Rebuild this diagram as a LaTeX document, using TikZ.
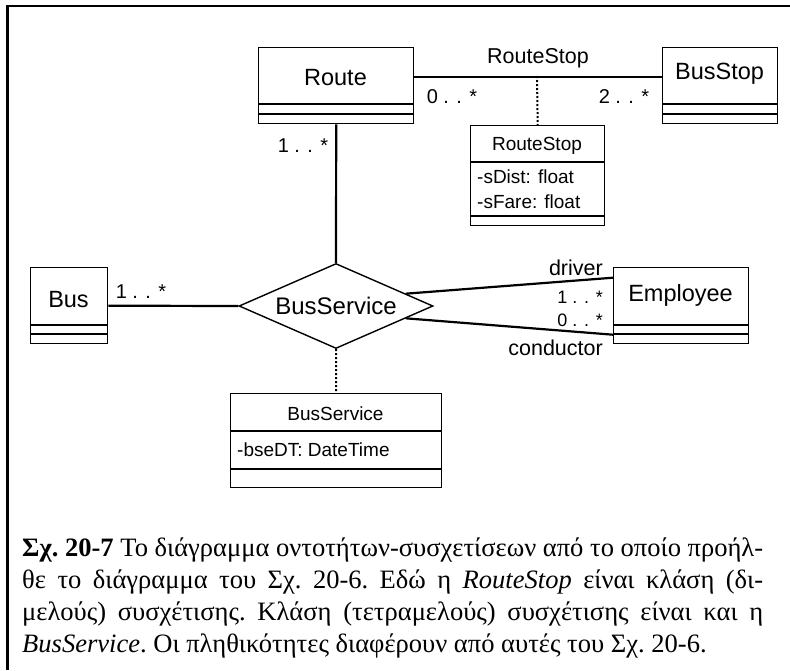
\documentclass[tikz,border=0pt]{standalone}
\usepackage{fontspec}
\setmainfont{Liberation Serif}
\newfontfamily\diagfont{Liberation Sans}
\usetikzlibrary{shapes.geometric}

\newcommand{\fsz}[1]{\fontsize{#1}{#1}\selectfont}

% caption lines, set as printed
\newcommand{\capA}{\textbf{Σχ. 20-7} Το διάγραμμα οντοτήτων-συσχετίσεων από το οποίο προήλ-}
\newcommand{\capB}{θε το διάγραμμα του Σχ. 20-6. Εδώ η \textit{RouteStop} είναι κλάση (δι-}
\newcommand{\capC}{μελούς) συσχέτισης. Κλάση (τετραμελούς) συσχέτισης είναι και η}
\newcommand{\capD}{\textit{BusService}. Οι πληθικότητες διαφέρουν από αυτές του Σχ. 20-6.}

% the first caption line runs the full measure at its natural width
\newlength{\capwidth}
\setlength{\capwidth}{741pt}
\newlength{\caplinenat}
\settowidth{\caplinenat}{\frenchspacing\fsz{20}\capA}

\tikzset{
  classbox/.style={draw, line width=1.4pt, inner sep=0pt, anchor=north west},
  comp/.style={line width=2pt},
  assoc/.style={line width=2.2pt},
  assocclass/.style={line width=2pt, dotted},
  bigname/.style={font=\diagfont\fsz{23.5}, inner sep=0pt},
  smallname/.style={font=\diagfont\fsz{19}, inner sep=0pt},
  attr/.style={font=\diagfont\fsz{19}, inner sep=0pt, anchor=west},
  rolelbl/.style={font=\diagfont\fsz{21.5}, inner sep=0pt},
  multlbl/.style={font=\diagfont\fsz{20}, inner sep=0pt},
  multsmall/.style={font=\diagfont\fsz{18}, inner sep=0pt, anchor=east},
  capline/.style={inner sep=0pt, anchor=base west},
}

\begin{document}
\pgfmathsetmacro{\capsize}{20*(741/\caplinenat)}
\begin{tikzpicture}[x=1pt, y=-1pt]
\useasboundingbox (0,0) rectangle (790,670);

% open frame: top and left edges
\draw[line width=2.3pt] (790,6) -- (7.5,6) -- (7.5,670);

% ---- classes ----
\node[classbox, minimum width=155pt, minimum height=76pt] (route) at (258,47) {};
\draw[comp] ([yshift=-57pt]route.north west) -- ([yshift=-57pt]route.north east);
\draw[comp] ([yshift=-67pt]route.north west) -- ([yshift=-67pt]route.north east);
\node[bigname] (routetxt) at (335.5,78) {Route};

\node[classbox, minimum width=115pt, minimum height=76pt] (busstop) at (662,47) {};
\draw[comp] ([yshift=-57pt]busstop.north west) -- ([yshift=-57pt]busstop.north east);
\draw[comp] ([yshift=-67pt]busstop.north west) -- ([yshift=-67pt]busstop.north east);
\node[bigname] (busstoptxt) at (719.5,74) {BusStop};

\node[classbox, minimum width=134pt, minimum height=100pt] (rsclass) at (470,125) {};
\draw[comp] ([yshift=-37pt]rsclass.north west) -- ([yshift=-37pt]rsclass.north east);
\draw[comp] ([yshift=-91pt]rsclass.north west) -- ([yshift=-91pt]rsclass.north east);
\node[smallname] (rstitle) at (537,146) {RouteStop};
\node[attr] (rsdist) at (477,177) {-sDist: float};
\node[attr] (rsfare) at (477,202) {-sFare: float};

\node[classbox, minimum width=77pt, minimum height=76pt] (bus) at (30,267) {};
\draw[comp] ([yshift=-58pt]bus.north west) -- ([yshift=-58pt]bus.north east);
\draw[comp] ([yshift=-67pt]bus.north west) -- ([yshift=-67pt]bus.north east);
\node[bigname] (bustxt) at (68.5,300) {Bus};

\node[classbox, minimum width=135pt, minimum height=76pt] (emp) at (613,267) {};
\draw[comp] ([yshift=-58pt]emp.north west) -- ([yshift=-58pt]emp.north east);
\draw[comp] ([yshift=-67pt]emp.north west) -- ([yshift=-67pt]emp.north east);
\node[bigname] (emptxt) at (680.5,295) {Employee};

\node[classbox, minimum width=211pt, minimum height=94pt] (bsclass) at (230,393) {};
\draw[comp] ([yshift=-38pt]bsclass.north west) -- ([yshift=-38pt]bsclass.north east);
\draw[comp] ([yshift=-76pt]bsclass.north west) -- ([yshift=-76pt]bsclass.north east);
\node[smallname] (bstitle) at (335.5,414) {BusService};
\node[attr] (bsattr) at (237,450) {-bseDT: DateTime};

% ---- n-ary association ----
\node[diamond, draw, line width=1.4pt, inner sep=0pt, aspect=2.28,
      minimum width=194pt, minimum height=85pt] (bs) at (336,306) {};
\node[font=\diagfont\fsz{24}, inner sep=0pt] (bstxt) at (336,306) {BusService};

% ---- connectors ----
\draw[assoc] ([yshift=9pt]route.east) -- ([yshift=9pt]busstop.west);
\coordinate (rsmid) at (537,76);
\draw[assocclass] (rsmid) -- (rsclass.north);
\draw[assoc] (route.south) -- (bs.north);
\draw[assoc] (bus.east) -- (bs.west);
\draw[assoc] (bs.10) -- ([yshift=28pt]emp.west);
\draw[assoc] (bs.-10) -- ([yshift=-29pt]emp.west);
\draw[assocclass] (bs.south) -- (bsclass.north);

% ---- labels ----
\node[rolelbl] (rslbl) at (538,58) {RouteStop};
\node[multlbl] (m1) at (452,97) {0 . . *};
\node[multlbl] (m2) at (624,97) {2 . . *};
\node[multlbl] (m3) at (303,146) {1 . . *};
\node[multlbl] (m4) at (141,292) {1 . . *};
\node[rolelbl, anchor=east] (drv) at (603,268) {driver};
\node[multsmall] (m5) at (603,297) {1 . . *};
\node[multsmall] (m6) at (603,320) {0 . . *};
\node[rolelbl, anchor=east] (cond) at (603,348) {conductor};

% ---- caption ----
\tikzset{capline/.append style={font=\frenchspacing\fsz{\capsize}}}
\node[capline] (cap1) at (22,556) {\makebox[\capwidth][s]{\capA}};
\node[capline] (cap2) at (22,588) {\makebox[\capwidth][s]{\capB}};
\node[capline] (cap3) at (22,620) {\makebox[\capwidth][s]{\capC}};
\node[capline] (cap4) at (22,652) {\capD};
\end{tikzpicture}
\end{document}
